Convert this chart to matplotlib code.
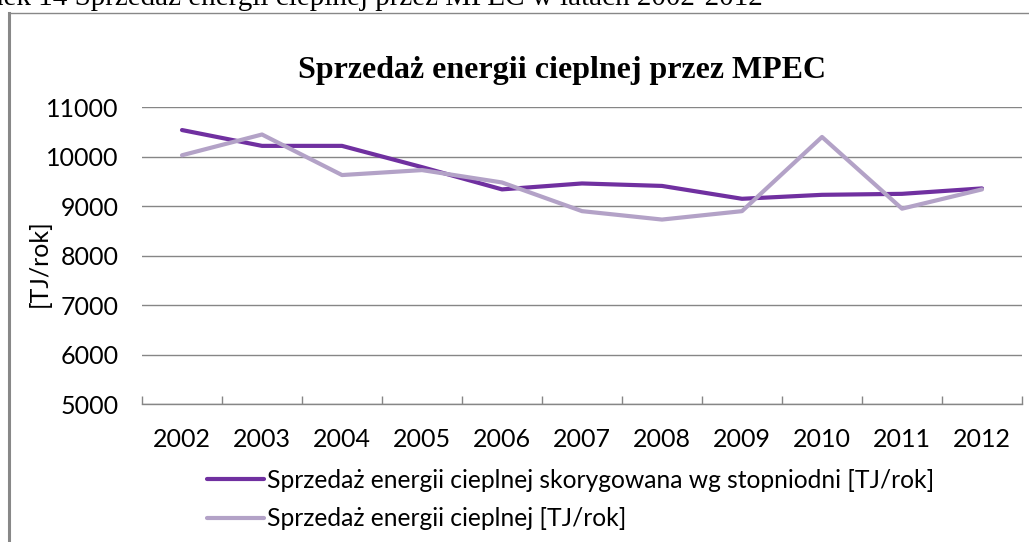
import matplotlib
matplotlib.use("Agg")
import matplotlib.pyplot as plt
from matplotlib.lines import Line2D

years = ["2002", "2003", "2004", "2005", "2006", "2007", "2008", "2009", "2010", "2011", "2012"]
corrected = [10540, 10220, 10220, 9790, 9340, 9460, 9410, 9150, 9230, 9250, 9360]
actual = [10030, 10450, 9630, 9730, 9480, 8900, 8730, 8900, 10400, 8950, 9340]
label_corrected = "Sprzedaż energii cieplnej skorygowana wg stopniodni [TJ/rok]"
label_actual = "Sprzedaż energii cieplnej [TJ/rok]"
title = "Sprzedaż energii cieplnej przez MPEC"
caption = "Rysunek 14 Sprzedaż energii cieplnej przez MPEC w latach 2002-2012"
ylabel = "[TJ/rok]"
yticks = [5000, 6000, 7000, 8000, 9000, 10000, 11000]

W, H = 1029, 542
DPI = 100
fig = plt.figure(figsize=(W / DPI, H / DPI), dpi=DPI)
fig.patch.set_facecolor("white")

def fx(px):
    return px / W

def fy(py):
    return 1 - py / H

SANS = ["Lato", "DejaVu Sans"]
SERIF = ["Liberation Serif", "DejaVu Serif"]
GRID = "#868686"
DARK = "#7030A0"
LIGHT = "#B3A2C7"
TICKFS = 18

ax = fig.add_axes([fx(142), fy(404), fx(1022) - fx(142), fy(107.3) - fy(404)])
x = list(range(len(years)))
ax.plot(x, corrected, color=DARK, lw=3.0, solid_capstyle="round", solid_joinstyle="round",
        label=label_corrected, zorder=3)
ax.plot(x, actual, color=LIGHT, lw=3.0, solid_capstyle="round", solid_joinstyle="round",
        label=label_actual, zorder=3)
ax.set_xlim(-0.5, len(years) - 0.5)
ax.set_ylim(5000, 11000)
ax.set_yticks(yticks)
ax.set_yticklabels([str(v) for v in yticks], family=SANS, fontsize=TICKFS)
ax.set_xticks(x)
ax.set_xticklabels(years, family=SANS, fontsize=TICKFS)
ax.set_xticks([i - 0.5 for i in range(len(years) + 1)], minor=True)
ax.tick_params(axis="x", which="major", length=0, pad=17)
ax.tick_params(axis="x", which="minor", direction="in", length=6, width=1, color=GRID)
ax.tick_params(axis="y", length=0, pad=17)
ax.grid(axis="y", color=GRID, lw=1.0)
ax.set_axisbelow(True)
for s in ["left", "right", "top"]:
    ax.spines[s].set_visible(False)
ax.spines["bottom"].set_color(GRID)
ax.spines["bottom"].set_linewidth(1.0)
ax.set_facecolor("none")

fig.text(fx(39), fy(263), ylabel, rotation=90, ha="center", va="center",
         family=SANS, fontsize=TICKFS)

fig.text(fx(562.5), fy(78.3), title, ha="center", va="baseline",
         family=SERIF, fontweight="bold", fontsize=23)

fig.text(fx(763), fy(5), caption, ha="right", va="baseline",
         family=SERIF, fontsize=21)

# outer frame of the chart object
fig.add_artist(Line2D([fx(8.5), fx(8.5)], [fy(12.5), fy(H + 5)], transform=fig.transFigure,
                      color="#888888", lw=2.2))
fig.add_artist(Line2D([fx(8.5), fx(W + 5)], [fy(12.5), fy(12.5)], transform=fig.transFigure,
                      color="#888888", lw=1.0))

handles, labels = ax.get_legend_handles_labels()
leg = fig.legend(handles, labels, loc="upper left", bbox_to_anchor=(fx(207), fy(469)),
                 frameon=False, prop={"family": SANS, "size": 17.7},
                 handlelength=2.3, handletextpad=0.15, labelspacing=0.62,
                 borderaxespad=0, borderpad=0)

fig.savefig("out.png", dpi=DPI, facecolor="white")
